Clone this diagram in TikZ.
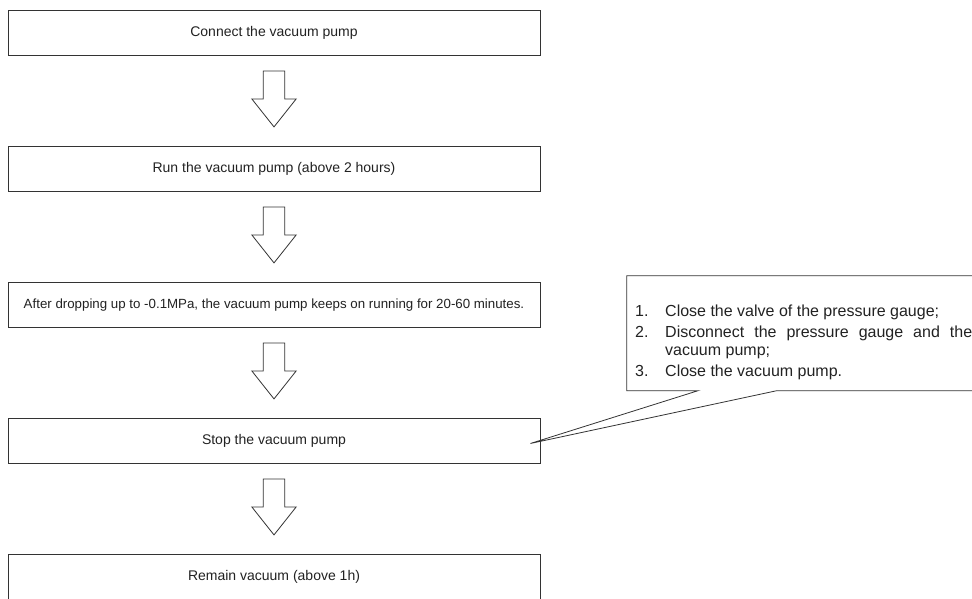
\documentclass[tikz,border=0pt]{standalone}
\usepackage{fontspec}
\setmainfont{Liberation Sans}
\usetikzlibrary{calc}
\definecolor{linec}{HTML}{333333}
\definecolor{textc}{HTML}{222222}
\tikzset{
  stepbox/.style={draw=linec, line width=0.9pt, fill=white, minimum width=532pt, minimum height=45pt, inner sep=0pt, text=textc, font=\fontsize{14}{16}\selectfont, anchor=north},
  bigarrow/.style={draw=linec, line width=0.8pt, fill=white, line join=miter},
  notetext/.style={inner sep=0pt, anchor=base west, text=textc, font=\fontsize{16}{19}\selectfont},
  noteline/.style={draw=linec, line width=0.8pt}
}
\begin{document}
\begin{tikzpicture}[x=1pt,y=-1pt]
\useasboundingbox (0,0) rectangle (972,598);
\clip (0,0) rectangle (972,598);
\node[stepbox] (b1) at (274,10) {Connect the vacuum pump};
\node[stepbox] (b2) at (274,146) {Run the vacuum pump (above 2 hours)};
\node[stepbox, font=\fontsize{13.3}{15}\selectfont] (b3) at (274,282) {After dropping up to -0.1MPa, the vacuum pump keeps on running for 20-60 minutes.};
\node[stepbox] (b4) at (274,418) {Stop the vacuum pump};
\node[stepbox] (b5) at (274,554) {Remain vacuum (above 1h)};
\foreach \a in {b1,b2,b3,b4}{
  \draw[bigarrow] ($(\a.south)+(-10.7,15)$) -- ++(0,28) -- ++(-11.5,0) -- ++(22.2,28) -- ++(22.2,-28) -- ++(-11.5,0) -- ++(0,-28) -- cycle;
}
% callout
\coordinate (tip) at ($(b4.east)+(-10,2.5)$);
\coordinate (cl) at (698,390.7);
\coordinate (cr) at (776.7,390.7);
\draw[noteline, line join=miter] (cl) -- (626.7,390.7) -- (626.7,275.7) -- (1000,275.7) -- (1000,390.7) -- (cr) -- (tip) -- cycle;
\node[notetext] (m1) at (635,316.3) {1.};
\node[notetext] (t1) at (665,316.3) {Close the valve of the pressure gauge;};
\node[notetext] (m2) at (635,337) {2.};
\node[notetext] (t2) at (665,337) {\makebox[307pt][s]{Disconnect the pressure gauge and the}};
\node[notetext] (t3) at (665,355) {vacuum pump;};
\node[notetext] (m3) at (635,376) {3.};
\node[notetext] (t4) at (665,376) {Close the vacuum pump.};
\end{tikzpicture}
\end{document}
